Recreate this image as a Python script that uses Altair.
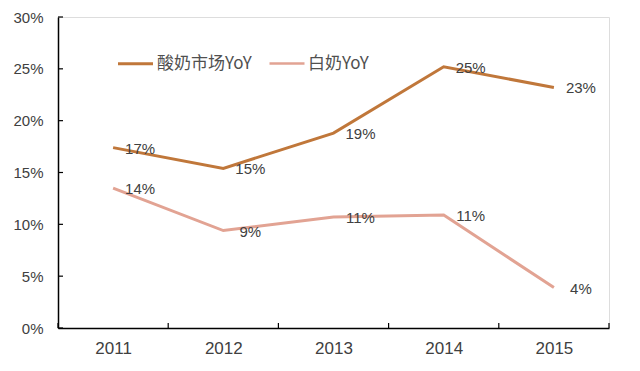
import altair as alt
import pandas as pd

years = [2011, 2012, 2013, 2014, 2015]
yogurt = [17.4, 15.4, 18.8, 25.2, 23.2]
white = [13.5, 9.4, 10.7, 10.9, 3.9]
series_names = ["酸奶市场YoY", "白奶YoY"]
series_colors = ["#C0773A", "#E2A393"]
y_ticks = [0, 5, 10, 15, 20, 25, 30]
x_bounds = [2010.5, 2011.5, 2012.5, 2013.5, 2014.5, 2015.5]

rows = []
for y, a, b in zip(years, yogurt, white):
    rows.append({"year": y, "series": series_names[0], "v": a, "lab": f"{round(a)}%"})
    rows.append({"year": y, "series": series_names[1], "v": b, "lab": f"{round(b)}%"})
df = pd.DataFrame(rows)

W, H = 551, 311
xs = alt.Scale(domain=[2010.5, 2015.5], nice=False, zero=False)
ys = alt.Scale(domain=[0, 30], nice=False)

x_enc = alt.X("year:Q", scale=xs, axis=alt.Axis(values=years, format="d", ticks=False, grid=False,
              domainColor="#000", domainWidth=1.5, labelColor="#404040", labelFontSize=17,
              labelFont="Liberation Sans", labelPadding=12, title=None))
y_enc = alt.Y("v:Q", scale=ys, axis=alt.Axis(values=y_ticks, labelExpr="datum.value + '%'", ticks=False,
              grid=False, domainColor="#000", domainWidth=1.5, labelColor="#404040", labelFontSize=15,
              labelFont="Liberation Sans", labelPadding=15, title=None))

lines = alt.Chart(df).mark_line(strokeWidth=3).encode(
    x=x_enc, y=y_enc,
    color=alt.Color("series:N", scale=alt.Scale(domain=series_names, range=series_colors),
                    legend=alt.Legend(orient="none", legendX=58, legendY=27, direction="horizontal",
                                      symbolType="stroke", symbolSize=1225, symbolStrokeWidth=3,
                                      labelFont="Noto Sans CJK SC", labelFontSize=17, labelColor="#505050",
                                      columnPadding=12, labelOffset=2, title=None)),
    strokeWidth=alt.StrokeWidth("series:N", scale=alt.Scale(domain=series_names, range=[3.2, 2.6]), legend=None),
)

labels = alt.Chart(df).mark_text(dx=27, dy=1, fontSize=15, font="Liberation Sans", color="#404040").encode(
    x=alt.X("year:Q", scale=xs), y=alt.Y("v:Q", scale=ys), text="lab:N")

ytick_df = pd.DataFrame({"t": y_ticks})
yticks = alt.Chart(ytick_df).mark_rule(color="#000", strokeWidth=1.2).encode(
    y=alt.Y("t:Q", scale=ys), x=alt.value(0), x2=alt.value(5))

xtick_df = pd.DataFrame({"b": x_bounds})
xticks = alt.Chart(xtick_df).mark_rule(color="#000", strokeWidth=1.2).encode(
    x=alt.X("b:Q", scale=xs), y=alt.value(H), y2=alt.value(H - 5))

chart = alt.layer(lines, labels, yticks, xticks).properties(
    width=W, height=H, autosize=alt.AutoSizeParams(type="none"),
    padding={"left": 50, "top": 9, "right": 20, "bottom": 40},
).configure_view(stroke=None).configure(background="white")

chart.save("out.html", embed_options={"renderer": "svg", "actions": False})
